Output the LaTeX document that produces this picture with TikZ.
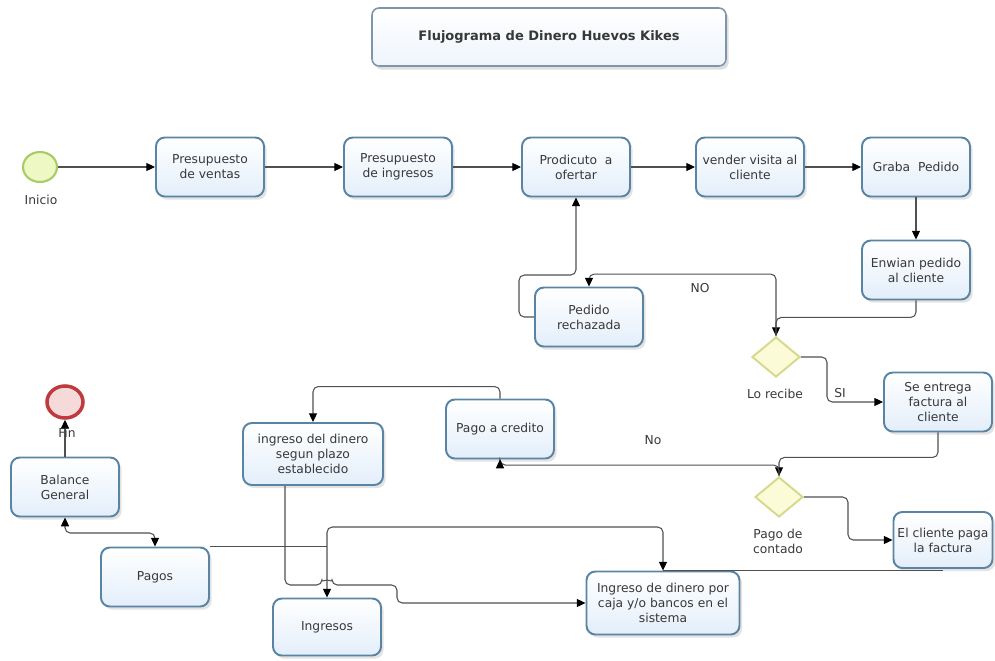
\documentclass[tikz,border=0pt]{standalone}
\usepackage{fontspec}
\setmainfont{DejaVu Sans}
\usetikzlibrary{shapes.geometric,arrows.meta,shadows,calc}

\definecolor{taskedge}{HTML}{5A84A4}
\definecolor{taskfill}{HTML}{E3EEFA}
\definecolor{titleedge}{HTML}{7F95AA}
\definecolor{startfill}{HTML}{EEF8C4}
\definecolor{startedge}{HTML}{A9CC62}
\definecolor{endfill}{HTML}{F6DADA}
\definecolor{endedge}{HTML}{BF3A3C}
\definecolor{gatefill}{HTML}{FBFBD8}
\definecolor{gateedge}{HTML}{D5D98C}
\definecolor{flow}{HTML}{505050}
\definecolor{txt}{HTML}{383838}

\begin{document}
\begin{tikzpicture}[x=0.02cm,y=-0.02cm,
  every node/.style={text=txt},
  task/.style={draw=taskedge, line width=1.1pt, rounded corners=5pt,
    top color=white, bottom color=taskfill,
    drop shadow={shadow xshift=1.5pt, shadow yshift=-1.8pt, opacity=0.22},
    align=center, font=\fontsize{7}{8.6}\selectfont, inner sep=2pt,
    minimum width=2.16cm, minimum height=1.18cm},
  titlebox/.style={draw=titleedge, line width=0.9pt, rounded corners=4pt,
    top color=white, bottom color=taskfill!60,
    drop shadow={shadow xshift=1.5pt, shadow yshift=-2pt, opacity=0.25},
    font=\bfseries\fontsize{7.4}{9}\selectfont,
    minimum width=7.08cm, minimum height=1.16cm},
  gate/.style={diamond, draw=gateedge, fill=gatefill, line width=1.1pt,
    inner sep=0pt, minimum width=0.96cm, minimum height=0.8cm},
  startev/.style={ellipse, draw=startedge, fill=startfill, line width=1.2pt,
    inner sep=0pt, minimum width=0.68cm, minimum height=0.6cm},
  endev/.style={ellipse, draw=endedge, fill=endfill, line width=2pt,
    inner sep=0pt, minimum width=0.72cm, minimum height=0.64cm},
  lbl/.style={font=\fontsize{7}{8.6}\selectfont, align=center, inner sep=1pt},
  line/.style={draw=flow, line width=0.6pt, rounded corners=3pt},
  arr/.style={line, -{Triangle[length=5pt,width=4.6pt,color=black]}},
  dbl/.style={line, {Triangle[length=5pt,width=4.6pt,color=black]}-{Triangle[length=5pt,width=4.6pt,color=black]}}
]
\useasboundingbox (0,0) rectangle (995,660);

% title
\node[titlebox] (title) at (549,37) {Flujograma de Dinero Huevos Kikes};

% upper lane
\node[startev] (inicio) at (40,167) {};
\node[lbl] (inicioL) at (41,200) {Inicio};
\node[task] (pv) at (210,167) {Presupuesto\\de ventas};
\node[task] (pi) at (398,167) {Presupuesto\\de ingresos};
\node[task] (prod) at (576,167) {Prodicuto\ \ a\\ofertar};
\node[task] (vender) at (750,167) {vender visita al\\cliente};
\node[task] (graba) at (916,167) {Graba\ \ Pedido};
\node[task] (enwian) at (916,270) {Enwian pedido\\al cliente};
\node[task] (rech) at (589,317) {Pedido\\rechazada};
\node[gate] (recibe) at (776,357) {};
\node[lbl] (recibeL) at (775,394) {Lo recibe};
\node[lbl] (noL) at (700,288) {NO};
\node[lbl] (siL) at (840,393) {SI};
\node[task] (entrega) at (938,402) {Se entrega\\factura al\\cliente};

% lower lane
\node[task] (credito) at (500,429) {Pago a credito};
\node[task, minimum width=2.8cm, minimum height=1.24cm] (plazo) at (313,454)
  {ingreso del dinero\\segun plazo\\establecido};
\node[lbl] (noL2) at (653,440) {No};
\node[gate] (contado) at (779,497) {};
\node[lbl] (contadoL) at (778,541) {Pago de\\contado};
\node[task, minimum width=1.98cm, minimum height=1.12cm] (cliente) at (943,540)
  {El cliente paga\\la factura};
\node[endev] (fin) at (65,402) {};
\node[task] (balance) at (65,487) {Balance\\General};
\node[task] (pagos) at (155,577) {Pagos};
\node[task, minimum height=1.14cm] (ingresos) at (327,627) {Ingresos};
\node[task, minimum width=3.06cm, minimum height=1.26cm] (caja) at (663,603)
  {Ingreso de dinero por\\caja y/o bancos en el\\sistema};

% main sequence
\draw[arr] (inicio) -- (pv);
\draw[arr] (pv) -- (pi);
\draw[arr] (pi) -- (prod);
\draw[arr] (prod) -- (vender);
\draw[arr] (vender) -- (graba);
\draw[arr] (graba) -- (enwian);
\draw[arr] (enwian.south) -- ++(0,17) -| (recibe.north);
\draw[arr] (recibe.north) -- ++(0,-62) -| (rech.north);
\draw[arr] (rech.west) -| (519,275) -| (prod.south);
\draw[arr] (recibe.east) -| (827,402) -- (entrega.west);
\draw[arr] (entrega.south) -- ++(0,25) -| (contado.north);
\draw[arr] (contado.north) -- ++(0,-11) -| (credito.south);
\draw[arr] (credito.north) -- ++(0,-12) -| (plazo.north);
\draw[arr] (contado.east) -| (848,540) -- (cliente.west);

% money flows
\coordinate (cl) at ($(cliente.south)+(0,2)$);
\draw[line] (cl) -- (cl -| caja.north);
\draw[dbl] (caja.north) |- (327,527) -- (ingresos.north);
\draw[line] (pagos.north east) -- (pagos.north east -| ingresos.north);
\draw[dbl] (balance.south) |- (155,533) -- (pagos.north);
\draw[arr] ($(plazo.south)+(-28,0)$) |- (322,585)
  arc[start angle=180, end angle=0, radius=0.1cm] -- (397,585) |- (caja.west);
\draw[arr] (balance.north) -- (fin.south);
\node[lbl] (finL) at (67,433) {Fin};
\end{tikzpicture}
\end{document}
